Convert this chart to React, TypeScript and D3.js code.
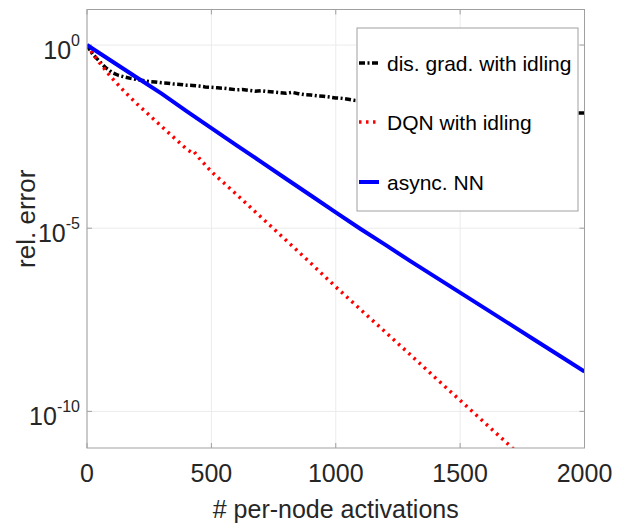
import React from 'react';
import * as d3 from 'd3';

// activations (x) and relative error (y)
const disGradX = [0, 10, 25, 50, 75, 100, 125, 150, 175, 200, 225, 250, 275, 300, 325, 350, 375, 400, 425, 450, 475, 500, 525, 550, 575, 600, 625, 650, 675, 700, 725, 750, 775, 800, 825, 850, 875, 900, 925, 950, 975, 1000, 1025, 1050, 1075, 1100, 1150, 1200, 1250, 1300, 1350, 1400, 1450, 1500, 1550, 1600, 1650, 1700, 1750, 1800, 1850, 1900, 1950, 2000];
const disGradY = [1.0, 0.76, 0.54, 0.36, 0.24, 0.18, 0.15, 0.135, 0.123, 0.115, 0.108, 0.101, 0.098, 0.093, 0.091, 0.086, 0.084, 0.08, 0.079, 0.076, 0.072, 0.07, 0.068, 0.066, 0.063, 0.06, 0.061, 0.058, 0.055, 0.057, 0.054, 0.052, 0.05, 0.048, 0.051, 0.047, 0.044, 0.043, 0.041, 0.04, 0.038, 0.036, 0.035, 0.033, 0.031, 0.03, 0.029, 0.027, 0.026, 0.024, 0.023, 0.022, 0.021, 0.02, 0.019, 0.018, 0.017, 0.0165, 0.016, 0.0152, 0.0148, 0.0143, 0.0141, 0.0139];

const dqnX = [0, 25, 50, 100, 150, 200, 300, 400, 420, 430, 440, 450, 500, 600, 700, 800, 900, 1000, 1100, 1200, 1300, 1400, 1500, 1600, 1700, 1720];
const dqnY = [1.0, 0.56, 0.33, 0.126, 0.054, 0.025, 6.0e-3, 1.45e-3, 1.17e-3, 1.26e-3, 1.0e-3, 8.3e-4, 3.5e-4, 8.5e-5, 2.0e-5, 4.7e-6, 1.1e-6, 2.5e-7, 6.0e-8, 1.45e-8, 3.5e-9, 8.3e-10, 2.0e-10, 4.8e-11, 1.15e-11, 8.7e-12];

const asyncX = [0, 100, 200, 300, 400, 500, 600, 700, 800, 900, 1000, 1100, 1200, 1300, 1400, 1500, 1600, 1700, 1800, 1900, 2000];
const asyncY = [1.0, 0.36, 0.13, 0.047, 0.0158, 5.4e-3, 1.86e-3, 6.5e-4, 2.24e-4, 7.8e-5, 2.7e-5, 9.5e-6, 3.5e-6, 1.26e-6, 4.7e-7, 1.74e-7, 6.5e-8, 2.4e-8, 8.9e-9, 3.3e-9, 1.23e-9];

const xTicks = [0, 500, 1000, 1500, 2000];
const yTickExps = [0, -5, -10];
const legendLabels = ['dis. grad. with idling', 'DQN with idling', 'async. NN'];

const W = 629, H = 527;
const L = 87, R = 584.5, T = 9.5, B = 448;
const font = '"Liberation Sans", Arial, sans-serif';

export default function App() {
  const x = d3.scaleLinear().domain([0, 2000]).range([L, R]);
  const y = d3.scaleLog().domain([1e-11, Math.pow(10, 0.97)]).range([B, T]);

  const mk = (xs: number[], ys: number[]) =>
    d3.line<number>().x((d, i) => x(xs[i])).y((d) => y(d))(ys) || '';

  const series = [
    { d: mk(disGradX, disGradY), color: '#000', width: 3.5, dash: '6 2.5 2 2.5' },
    { d: mk(dqnX, dqnY), color: '#ff0000', width: 3.5, dash: '2.5 4.5' },
    { d: mk(asyncX, asyncY), color: '#0000ff', width: 4, dash: undefined },
  ];

  const axisColor = '#a0a0a0';
  const gridColor = '#ebebeb';
  const tickLen = 5;

  const lx = 357, ly = 28, lw = 221, lh = 183;
  const rowY = [63, 122, 182];

  return (
    <svg width={W} height={H} style={{ position: 'absolute', left: 0, top: 0, background: '#fff' }} fontFamily={font}>
      <defs>
        <clipPath id="plot">
          <rect x={L} y={T} width={R - L} height={B - T} />
        </clipPath>
      </defs>
      {/* grid */}
      {xTicks.map((t) => (
        <line key={'gx' + t} x1={x(t)} x2={x(t)} y1={T} y2={B} stroke={gridColor} strokeWidth={1} />
      ))}
      {yTickExps.map((e) => (
        <line key={'gy' + e} x1={L} x2={R} y1={y(Math.pow(10, e))} y2={y(Math.pow(10, e))} stroke={gridColor} strokeWidth={1} />
      ))}
      {/* ticks */}
      {xTicks.map((t) => (
        <g key={'tx' + t}>
          <line x1={x(t)} x2={x(t)} y1={B} y2={B - tickLen} stroke={axisColor} />
          <line x1={x(t)} x2={x(t)} y1={T} y2={T + tickLen} stroke={axisColor} />
          <text x={x(t)} y={482} fontSize={25} textAnchor="middle" fill="#262626">{t}</text>
        </g>
      ))}
      {yTickExps.map((e) => {
        const yy = y(Math.pow(10, e));
        return (
          <g key={'ty' + e}>
            <line x1={L} x2={L + tickLen} y1={yy} y2={yy} stroke={axisColor} />
            <line x1={R} x2={R - tickLen} y1={yy} y2={yy} stroke={axisColor} />
            <text x={80} y={yy + 14} fontSize={25} textAnchor="end" fill="#262626">
              10<tspan fontSize={16} dy={-13}>{e}</tspan>
            </text>
          </g>
        );
      })}
      {/* data */}
      <g clipPath="url(#plot)">
        {series.map((s, i) => (
          <path key={i} d={s.d} fill="none" stroke={s.color} strokeWidth={s.width} strokeDasharray={s.dash} />
        ))}
      </g>
      {/* box */}
      <rect x={L} y={T} width={R - L} height={B - T} fill="none" stroke={axisColor} strokeWidth={1} />
      {/* legend */}
      <rect x={lx} y={ly} width={lw} height={lh} fill="#fff" stroke={axisColor} strokeWidth={1} />
      {legendLabels.map((lab, i) => (
        <g key={lab}>
          <line x1={lx + 2} x2={lx + 22} y1={rowY[i]} y2={rowY[i]} stroke={series[i].color}
            strokeWidth={series[i].width} strokeDasharray={series[i].dash} />
          <text x={lx + 30} y={rowY[i] + 7.5} fontSize={21} fill="#000">{lab}</text>
        </g>
      ))}
      {/* axis labels */}
      <text x={(L + R) / 2} y={518} fontSize={25} textAnchor="middle" fill="#262626"># per-node activations</text>
      <text transform={`translate(35,${(T + B) / 2 - 10}) rotate(-90)`} fontSize={26} textAnchor="middle" fill="#262626">rel. error</text>
    </svg>
  );
}
